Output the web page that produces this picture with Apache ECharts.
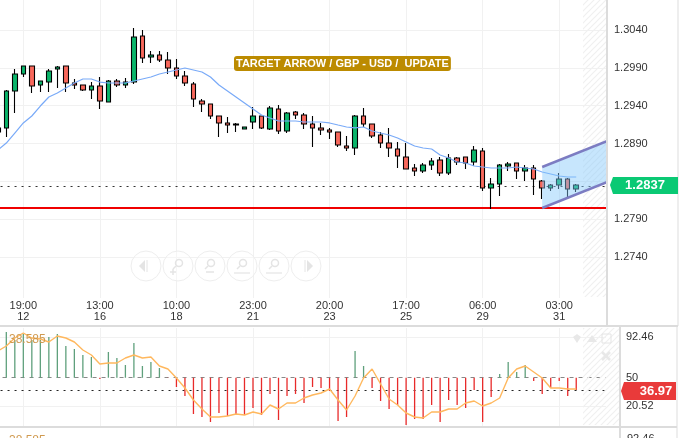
<!DOCTYPE html>
<html><head><meta charset="utf-8">
<style>html,body{margin:0;padding:0;background:#fff}#c{width:699px;height:438px}</style>
<script src="https://cdn.jsdelivr.net/npm/echarts@6/dist/echarts.min.js"></script>
</head><body><div id="c"></div>
<script>
const opens=[1.29052,1.29105,1.29593,1.29818,1.29924,1.29673,1.29712,1.29884,1.29924,1.29699,1.29673,1.29607,1.29660,1.29448,1.29726,1.29673,1.29712,1.30320,1.30043,1.30069,1.30003,1.29897,1.29792,1.29686,1.29461,1.29422,1.29263,1.29171,1.29157,1.29091,1.29184,1.29263,1.29091,1.29356,1.29065,1.29316,1.29276,1.29157,1.29105,1.29078,1.29052,1.28867,1.28840,1.29263,1.29157,1.29012,1.28906,1.28827,1.28721,1.28576,1.28536,1.28616,1.28682,1.28510,1.28708,1.28721,1.28655,1.28801,1.28312,1.28365,1.28602,1.28642,1.28536,1.28576,1.28404,1.28312,1.28351,1.28431,1.28298];
const closes=[1.29105,1.29593,1.29818,1.29924,1.29660,1.29726,1.29858,1.29911,1.29699,1.29673,1.29607,1.29660,1.29461,1.29726,1.29673,1.29712,1.30307,1.30030,1.30069,1.30003,1.29897,1.29792,1.29699,1.29488,1.29422,1.29263,1.29171,1.29144,1.29144,1.29118,1.29263,1.29105,1.29369,1.29065,1.29303,1.29276,1.29157,1.29105,1.29078,1.29052,1.28880,1.28840,1.29263,1.29157,1.28999,1.28906,1.28840,1.28735,1.28563,1.28536,1.28616,1.28668,1.28510,1.28708,1.28655,1.28642,1.28814,1.28312,1.28365,1.28616,1.28629,1.28536,1.28576,1.28431,1.28312,1.28351,1.28431,1.28298,1.28351];
const lows=[1.29012,1.28986,1.29303,1.29778,1.29567,1.29580,1.29580,1.29633,1.29580,1.29620,1.29593,1.29488,1.29356,1.29448,1.29646,1.29633,1.29686,1.29963,1.29963,1.29977,1.29818,1.29752,1.29660,1.29382,1.29316,1.29223,1.28986,1.29038,1.29052,1.29091,1.29091,1.29091,1.29078,1.29025,1.29038,1.29223,1.29091,1.28853,1.29012,1.28959,1.28853,1.28801,1.28748,1.29118,1.28972,1.28840,1.28721,1.28576,1.28563,1.28470,1.28510,1.28550,1.28470,1.28483,1.28616,1.28563,1.28602,1.28272,1.28034,1.28206,1.28536,1.28431,1.28404,1.28219,1.28166,1.28272,1.28298,1.28193,1.28259];
const highs=[1.29210,1.29607,1.29884,1.29924,1.29924,1.29726,1.29884,1.29924,1.29924,1.29752,1.29673,1.29712,1.29778,1.29739,1.29752,1.29765,1.30426,1.30400,1.30122,1.30122,1.30109,1.30016,1.29858,1.29712,1.29488,1.29422,1.29263,1.29250,1.29171,1.29118,1.29382,1.29263,1.29395,1.29408,1.29316,1.29329,1.29303,1.29263,1.29171,1.29105,1.29052,1.28999,1.29276,1.29369,1.29157,1.29052,1.29105,1.28920,1.28906,1.28629,1.28642,1.28708,1.28721,1.28761,1.28721,1.28721,1.28867,1.28840,1.28444,1.28629,1.28655,1.28642,1.28616,1.28616,1.28417,1.28365,1.28510,1.28444,1.28365];
const movingAvg=[1.28814,1.28906,1.29038,1.29171,1.29263,1.29395,1.29514,1.29567,1.29633,1.29699,1.29752,1.29752,1.29712,1.29699,1.29699,1.29699,1.29726,1.29752,1.29778,1.29818,1.29845,1.29871,1.29897,1.29871,1.29845,1.29778,1.29673,1.29593,1.29514,1.29435,1.29356,1.29276,1.29237,1.29197,1.29197,1.29197,1.29184,1.29184,1.29184,1.29171,1.29144,1.29118,1.29105,1.29118,1.29065,1.29038,1.29012,1.28972,1.28920,1.28867,1.28840,1.28827,1.28748,1.28708,1.28655,1.28642,1.28602,1.28589,1.28576,1.28576,1.28576,1.28589,1.28576,1.28563,1.28523,1.28497,1.28470,1.28457,1.28457];
const oscBars=[null,97.67,89.33,95.59,89.33,89.33,92.46,95.59,83.08,79.95,73.69,71.61,48.67,76.82,70.57,63.27,86.20,62.22,66.40,60.14,49.71,40.33,30.95,12.18,9.05,3.84,13.22,10.09,12.18,11.14,18.43,11.14,33.03,5.92,30.95,33.03,23.65,40.33,39.29,36.16,4.88,9.05,77.86,62.22,39.29,25.73,17.39,21.56,0.71,6.97,6.97,21.56,3.84,26.77,21.56,18.43,37.20,3.84,29.90,53.88,66.40,55.97,63.27,46.59,33.03,39.29,46.59,30.95,37.20];
const oscLine=[77.86,83.08,91.42,96.63,91.42,90.37,87.25,93.50,91.42,87.25,78.91,73.69,64.31,65.35,65.35,70.57,73.69,70.57,71.61,62.22,59.10,49.71,39.29,26.77,17.39,9.05,9.05,10.09,12.18,11.14,14.26,12.18,21.56,17.39,23.65,23.65,28.86,31.99,34.07,38.25,26.77,16.35,30.95,49.71,59.10,43.46,27.82,21.56,13.22,9.05,8.01,14.26,14.26,17.39,17.39,23.65,25.73,20.52,23.65,28.86,49.71,59.10,62.22,55.97,49.71,39.29,39.29,38.25,38.25];
const timeLabels=["19:00\n12","13:00\n16","10:00\n18","23:00\n21","20:00\n23","17:00\n25","06:00\n29","03:00\n31"];
const timeIdx=[3,12,21,30,39,48,57,66];
const priceTicks=[1.2740,1.2790,1.2890,1.2940,1.2990,1.3040];
const gridPrices=[1.2740,1.2790,1.2840,1.2890,1.2940,1.2990,1.3040];
const oscTicks=[92.46,50,20.52];
const lastPrice=1.28338, supportLevel=1.28047, oscLast=36.97;
const channel={from:64,to:72,upper:[1.28589,1.28949],lower:[1.28047,1.28407]};

const categories=Array.from({length:72},(_,i)=>{const k=timeIdx.indexOf(i);return k>=0?timeLabels[k]:String(i)});
const candleData=opens.map((o,i)=>[o,closes[i],lows[i],highs[i]]);
const hatch=document.createElement('canvas');hatch.width=hatch.height=6;
{const g=hatch.getContext('2d');g.strokeStyle='#f0f0f0';g.lineWidth=1.2;g.beginPath();
 g.moveTo(-1,7);g.lineTo(7,-1);g.moveTo(-1,1);g.lineTo(1,-1);g.moveTo(5,7);g.lineTo(7,5);g.stroke();}
const noSym={symbol:'none'};
const gl={color:'#f1f1f1',width:1,type:'solid'};
const mlBase={silent:true,precision:5,z:1,symbol:['none','none'],label:{show:false},animation:false};
const grey='#dcdcdc';
const seg=(x1,y1,x2,y2,c,w)=>({type:'line',silent:true,z:20,shape:{x1,y1,x2,y2},style:{stroke:c||grey,lineWidth:w||2}});
const btnX=[146,178,210,242,274,306],btnY=266,ic='#e4e4e4';
const btns=btnX.map(x=>({type:'circle',silent:true,z:5,shape:{cx:x,cy:btnY,r:15},style:{fill:'rgba(255,255,255,0.4)',stroke:'#eeeeee',lineWidth:1}}));
const tri=(pts)=>({type:'polygon',silent:true,z:5,shape:{points:pts},style:{fill:ic}});
const glass=(x,extra)=>[{type:'circle',silent:true,z:5,shape:{cx:x+1,cy:btnY-3,r:3.5},style:{fill:'none',stroke:ic,lineWidth:1.5}},seg(x-2,btnY,x-5,btnY+3,ic,1.5)].concat(extra).map(e=>(e.z=5,e));
const gfx=[
 ...btns,
 tri([[145,260],[145,272],[139,266]]),seg(147,260,147,272,ic,1),
 tri([[307,260],[307,272],[313,266]]),seg(305,260,305,272,ic,1),
 ...glass(178,[seg(170,272,176,272,ic,1.5),seg(173,269,173,275,ic,1.5)]),
 ...glass(210,[seg(206,272,214,272,ic,1.5)]),
 ...glass(242,[seg(234,273,250,273,ic,1.2)]),
 ...glass(274,[seg(266,273,282,273,ic,1.2)]),
 {type:'rect',silent:true,z:2,shape:{x:583,y:0,width:23,height:297},style:{fill:{image:hatch,repeat:'repeat'}}},
 {type:'rect',silent:true,z:2,shape:{x:583,y:328,width:36,height:97},style:{fill:{image:hatch,repeat:'repeat'}}},
 seg(607,0,607,325),seg(0,326,678,326),seg(0,427,677,427),seg(620,327,620,438),
 seg(678,0,678,326,'#dddddd',1),seg(677,327,677,438,'#dddddd',1),
 {type:'polygon',silent:true,z:21,shape:{points:[[610,185],[613,177],[678,177],[678,194],[613,194]]},style:{fill:'#0ac974'}},
 {type:'text',silent:true,z:22,style:{x:645,y:185.5,text:'1.2837',fill:'#fff',font:'bold 13px "Liberation Sans",Arial',textAlign:'center',textVerticalAlign:'middle'}},
 {type:'polygon',silent:true,z:21,shape:{points:[[621,391],[624,382],[676,382],[676,400],[624,400]]},style:{fill:'#e93a3a'}},
 {type:'text',silent:true,z:22,style:{x:656,y:391,text:'36.97',fill:'#fff',font:'bold 13px "Liberation Sans",Arial',textAlign:'center',textVerticalAlign:'middle'}},
 {type:'text',silent:true,z:22,style:{x:9,y:340,text:'38.585',fill:'#d09a50',font:'12px "Liberation Sans",Arial',textVerticalAlign:'middle'}},
 {type:'text',silent:true,z:22,style:{x:9,y:441,text:'38.585',fill:'#d09a50',font:'12px "Liberation Sans",Arial',textVerticalAlign:'middle'}},
 {type:'text',silent:true,z:22,style:{x:627,y:439,text:'92.46',fill:'#333',font:'11px "Liberation Sans",Arial',textVerticalAlign:'middle'}},
 {type:'polygon',silent:true,z:16,shape:{points:[[577,334],[581,337],[577,343],[573,337]]},style:{fill:'#e8e8e8'}},
 {type:'polygon',silent:true,z:16,shape:{points:[[592,335],[597,342],[587,342]]},style:{fill:'#e8e8e8'}},
 {type:'rect',silent:true,z:16,shape:{x:602,y:334,width:9,height:9},style:{fill:'none',stroke:'#e4e4e4',lineWidth:1}},
 seg(602,352,610,360,'#e8e8e8',2.5),seg(610,352,602,360,'#e8e8e8',2.5)
];
const chart=echarts.init(document.getElementById('c'),null,{renderer:'canvas'});
chart.setOption({
 animation:false,backgroundColor:'#fff',
 textStyle:{fontFamily:'"Liberation Sans",Arial,sans-serif'},
 title:{text:'TARGET ARROW / GBP - USD /  UPDATE',left:234,top:56,padding:[1,2,1,2],backgroundColor:'#bc8b00',borderRadius:3,
  textStyle:{color:'#fff',fontSize:11,fontWeight:'bold',lineHeight:13,fontFamily:'"Liberation Sans",Arial'},z:10},
 grid:[{left:-6.45,top:0,width:612.45,height:298,outerBoundsMode:'none',containLabel:false},{left:-6.45,top:328,width:612.45,height:98,outerBoundsMode:'none',containLabel:false}],
 xAxis:[
  {type:'category',gridIndex:0,data:categories,boundaryGap:true,axisLine:{show:false},axisTick:{show:false},splitLine:{show:false},
   axisLabel:{interval:(i)=>timeIdx.includes(i),margin:2,fontSize:11,lineHeight:11,color:'#333',hideOverlap:false}},
  {type:'category',gridIndex:1,data:categories,boundaryGap:true,axisLine:{show:false},axisTick:{show:false},axisLabel:{show:false},splitLine:{show:false}}
 ],
 yAxis:[
  {type:'value',gridIndex:0,position:'right',min:1.26858,max:1.30796,splitLine:{show:false},axisLine:{show:false},axisTick:{show:false},
   axisLabel:{customValues:priceTicks,formatter:v=>v.toFixed(4),margin:8,fontSize:11,color:'#333'}},
  {type:'value',gridIndex:1,position:'right',min:-0.33,max:101.84,splitLine:{show:false},axisLine:{show:false},axisTick:{show:false},
   axisLabel:{customValues:oscTicks,formatter:v=>String(v),margin:20,fontSize:11,color:'#333'}}
 ],
 graphic:{elements:gfx},
 series:[
  {name:'grid',type:'line',xAxisIndex:0,yAxisIndex:0,data:[],z:1,silent:true,
   markLine:{...mlBase,lineStyle:gl,data:[...gridPrices.map(v=>({yAxis:v})),...timeIdx.map(v=>({xAxis:v}))]}},
  {name:'levels',type:'line',xAxisIndex:0,yAxisIndex:0,data:[],z:3,silent:true,
   markLine:{...mlBase,z:3,data:[
    {yAxis:lastPrice,lineStyle:{color:'#333',width:1,type:[2,5]}},
    {yAxis:supportLevel,lineStyle:{color:'#f00000',width:2,type:'solid'}}]}},
  {name:'GBPUSD',type:'candlestick',xAxisIndex:0,yAxisIndex:0,z:4,barWidth:5,data:candleData,
   itemStyle:{color:'#0ab56a',color0:'#f8685c',borderColor:'#000',borderColor0:'#000',borderWidth:1.1}},
  {name:'MA',type:'line',xAxisIndex:0,yAxisIndex:0,z:5,data:movingAvg,...noSym,lineStyle:{color:'#79aaf8',width:1.2}},
  {name:'channel',type:'custom',xAxisIndex:0,yAxisIndex:0,z:6,silent:true,clip:true,data:[[channel.from,channel.upper[0]]],
   encode:{x:0,y:1},
   renderItem:(p,api)=>{
    const a=api.coord([channel.from,channel.upper[0]]),b=api.coord([channel.to,channel.upper[1]]),
          c=api.coord([channel.to,channel.lower[1]]),d=api.coord([channel.from,channel.lower[0]]);
    return {type:'group',children:[
     {type:'polygon',shape:{points:[a,b,c,d]},style:{fill:'rgba(130,200,250,0.45)',stroke:'none'}},
     {type:'line',shape:{x1:a[0],y1:a[1],x2:b[0],y2:b[1]},style:{stroke:'#7c7cc2',lineWidth:2.5}},
     {type:'line',shape:{x1:d[0],y1:d[1],x2:c[0],y2:c[1]},style:{stroke:'#7c7cc2',lineWidth:2.5}}]};
   }},
  {name:'oscGrid',type:'line',xAxisIndex:1,yAxisIndex:1,data:[],z:1,silent:true,
   markLine:{...mlBase,data:[
    ...timeIdx.map(v=>({xAxis:v,lineStyle:gl})),
    {yAxis:92.46,lineStyle:gl},{yAxis:20.52,lineStyle:gl},
    {yAxis:50,lineStyle:{color:'#888',width:1,type:[4,5]}},
    {yAxis:oscLast,lineStyle:{color:'#222',width:1,type:[2,5]}}]}},
  {name:'oscBars',type:'custom',xAxisIndex:1,yAxisIndex:1,z:3,silent:true,
   data:oscBars.map((v,i)=>[i,v]),encode:{x:0,y:1},
   renderItem:(p,api)=>{
    const v=api.value(1);if(isNaN(v)||v===null)return null;
    const t=api.coord([api.value(0),50]),e=api.coord([api.value(0),v]);
    return {type:'line',shape:{x1:t[0],y1:t[1],x2:e[0],y2:e[1]},style:{stroke:v>=50?'#5fa07c':'#e82a2a',lineWidth:1.3}};
   }},
  {name:'oscLine',type:'line',xAxisIndex:1,yAxisIndex:1,z:4,data:oscLine,...noSym,lineStyle:{color:'#ffb85e',width:1.4}}
 ]
});
</script></body></html>
